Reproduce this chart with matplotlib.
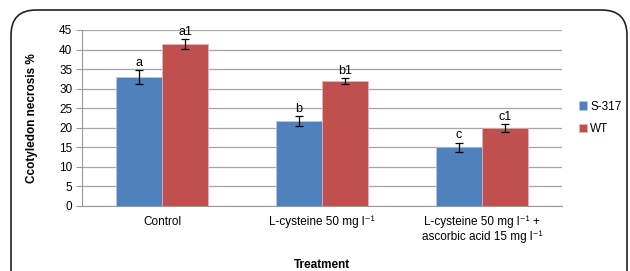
import numpy as np
import matplotlib
matplotlib.use("Agg")
import matplotlib.pyplot as plt
from matplotlib.patches import FancyBboxPatch

plt.rcParams['font.family'] = ['Liberation Sans', 'DejaVu Sans']

# Data
categories = ["Control", "L-cysteine 50 mg l\u207b\u00b9",
              "L-cysteine 50 mg l\u207b\u00b9 +\nascorbic acid 15 mg l\u207b\u00b9"]
s317 = [33.0, 21.7, 15.0]
s317_err = [1.7, 1.2, 1.2]
wt = [41.5, 32.0, 20.0]
wt_err = [1.3, 0.7, 1.0]
s317_letters = ["a", "b", "c"]
wt_letters = ["a1", "b1", "c1"]

BLUE = "#4f81bd"
RED = "#c0504d"

fig = plt.figure(figsize=(6.3, 2.71), dpi=100)
ax = fig.add_axes([82 / 630, 1 - 206 / 271, 480 / 630, 176 / 271])

# rounded frame around the chart
frame = FancyBboxPatch((11 / 630, -0.2), 616 / 630, 1.2 - 10 / 271,
                       boxstyle="round,pad=0,rounding_size=0.04",
                       transform=fig.transFigure, fill=False,
                       edgecolor="#222222", linewidth=1.2, clip_on=False,
                       mutation_aspect=630 / 271)
fig.patches.append(frame)

x = np.arange(len(categories))
w = 0.29
ax.bar(x - w / 2, s317, w, color=BLUE, edgecolor="#b9c9e0", linewidth=0.5, label="S-317")
ax.bar(x + w / 2, wt, w, color=RED, edgecolor="#e0b9b8", linewidth=0.5, label="WT")
ax.errorbar(x - w / 2, s317, yerr=s317_err, fmt="none", ecolor="black",
            elinewidth=0.9, capsize=3, capthick=0.9)
ax.errorbar(x + w / 2, wt, yerr=wt_err, fmt="none", ecolor="black",
            elinewidth=0.9, capsize=3, capthick=0.9)

for xi, v, e, t in zip(x - w / 2, s317, s317_err, s317_letters):
    ax.text(xi, v + e + 0.4, t, ha="center", va="bottom", fontsize=9)
for xi, v, e, t in zip(x + w / 2, wt, wt_err, wt_letters):
    ax.text(xi, v + e + 0.2, t, ha="center", va="bottom", fontsize=9)

ax.set_xlim(-0.5, 2.5)
ax.set_ylim(0, 45)
ax.set_yticks(range(0, 46, 5))
ax.set_xticks(x)
ax.set_xticklabels(categories, fontsize=8.5, linespacing=1.2)
ax.tick_params(axis="y", labelsize=8.5, length=4, color="#999999", pad=3)
ax.tick_params(axis="x", length=0, pad=7)
ax.yaxis.grid(True, color="#a6a6a6", linewidth=0.9)
ax.set_axisbelow(True)
for s in ["top", "right"]:
    ax.spines[s].set_visible(False)
ax.spines["left"].set_color("#999999")
ax.spines["bottom"].set_color("#999999")

ax.set_ylabel("Ccotyledon necrosis %", fontsize=8.5, fontweight="bold", labelpad=15)
fig.text(0.5 * (82 + 562) / 630, 1 - 265 / 271, "Treatment", ha="center", va="center",
         fontsize=8.5, fontweight="bold")

ax.legend(loc="center left", bbox_to_anchor=(568 / 630, 1 - 118 / 271),
          bbox_transform=fig.transFigure, frameon=False, fontsize=8.5,
          handlelength=0.7, handleheight=0.7, handletextpad=0.3, labelspacing=0.9)

fig.savefig("out.png", dpi=100)
